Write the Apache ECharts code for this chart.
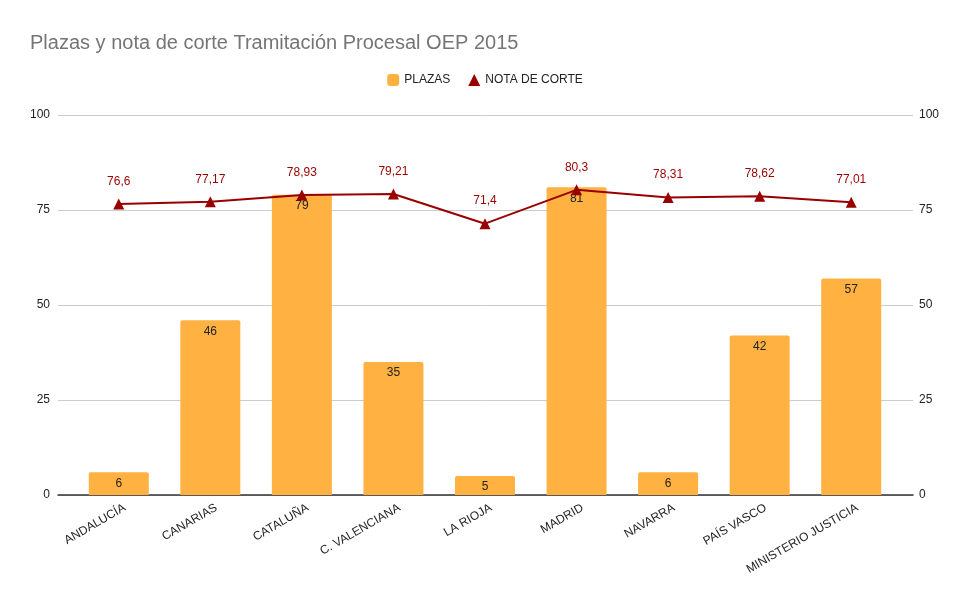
<!DOCTYPE html>
<html>
<head>
    <meta charset="utf-8">
    <title>Plazas y nota de corte</title>
    <script src="https://cdn.jsdelivr.net/npm/echarts@6/dist/echarts.min.js"></script>
    <style>
        html, body { margin: 0; padding: 0; background: #fff; }
        #chart { width: 970px; height: 600px; }
    </style>
</head>
<body>
<div id="chart"></div>
<script type="text/javascript">

    // datos
    var categories = ['ANDALUCÍA', 'CANARIAS', 'CATALUÑA', 'C. VALENCIANA', 'LA RIOJA', 'MADRID', 'NAVARRA', 'PAÍS VASCO', 'MINISTERIO JUSTICIA'];
    var plazas = [6, 46, 79, 35, 5, 81, 6, 42, 57];
    var notaCorte = [76.6, 77.17, 78.93, 79.21, 71.4, 80.3, 78.31, 78.62, 77.01];
    var yTicks = [0, 25, 50, 75, 100];

    var font = 'Liberation Sans, Arial, sans-serif';
    var chart = echarts.init(document.getElementById('chart'));

    function coma(v) {
        return String(v).replace('.', ',');
    }

    chart.setOption({
        backgroundColor: '#fff',
        textStyle: { fontFamily: font },
        title: {
            text: 'Plazas y nota de corte Tramitación Procesal OEP 2015',
            left: 25,
            top: 28,
            textStyle: { color: '#757575', fontSize: 20, fontWeight: 'normal', fontFamily: font }
        },
        legend: {
            left: 'center',
            top: 69,
            itemGap: 18,
            itemWidth: 12,
            itemHeight: 12,
            textStyle: { color: '#222', fontSize: 12, fontFamily: font },
            data: [
                { name: 'PLAZAS', icon: 'roundRect' },
                { name: 'NOTA DE CORTE', icon: 'triangle' }
            ]
        },
        // grid 0: lineas y etiquetas de ejes, grid 1: series, grid 2: etiquetas categoria
        grid: [
            { left: 58, right: 57, top: 115, bottom: 105 },
            { left: 73, right: 73, top: 115, bottom: 105 },
            { left: 79, right: 67, top: 115, bottom: 105 }
        ],
        xAxis: [
            {
                gridIndex: 0, type: 'value', min: 0, max: 1,
                axisLine: { show: true, lineStyle: { color: '#333', width: 1.5 } },
                axisTick: { show: false }, axisLabel: { show: false }, splitLine: { show: false }
            },
            {
                gridIndex: 1, type: 'category', data: categories,
                axisLine: { show: false }, axisTick: { show: false }, axisLabel: { show: false }
            },
            {
                gridIndex: 2, type: 'category', data: categories,
                axisLine: { show: false }, axisTick: { show: false },
                axisLabel: { interval: 0, rotate: 30, margin: 12, color: '#222', fontSize: 12, fontFamily: font }
            }
        ],
        yAxis: [
            {
                gridIndex: 0, type: 'value', position: 'left',
                min: yTicks[0], max: yTicks[yTicks.length - 1], interval: 25,
                axisLine: { show: false }, axisTick: { show: false },
                axisLabel: { color: '#222', fontSize: 12, margin: 8, fontFamily: font },
                splitLine: { lineStyle: { color: '#ccc' } }
            },
            {
                gridIndex: 0, type: 'value', position: 'right',
                min: yTicks[0], max: yTicks[yTicks.length - 1], interval: 25,
                axisLine: { show: false }, axisTick: { show: false },
                axisLabel: { color: '#222', fontSize: 12, margin: 6, fontFamily: font },
                splitLine: { show: false }
            },
            { gridIndex: 1, type: 'value', min: 0, max: 100, show: false },
            { gridIndex: 2, type: 'value', min: 0, max: 100, show: false }
        ],
        series: [
            {
                name: 'PLAZAS',
                type: 'bar',
                xAxisIndex: 1,
                yAxisIndex: 2,
                barWidth: 60,
                itemStyle: { color: '#FFB142', borderRadius: [2, 2, 0, 0] },
                label: {
                    show: true, position: 'insideTop', distance: 5,
                    color: '#222', fontSize: 12, fontFamily: font
                },
                data: plazas
            },
            {
                name: 'NOTA DE CORTE',
                type: 'line',
                xAxisIndex: 1,
                yAxisIndex: 2,
                symbol: 'triangle',
                symbolSize: 11,
                itemStyle: { color: '#990000' },
                lineStyle: { color: '#990000', width: 2 },
                label: {
                    show: true, position: 'top', distance: 11,
                    color: '#990000', fontSize: 12, fontFamily: font,
                    formatter: function (p) { return coma(p.value); }
                },
                z: 3,
                data: notaCorte
            }
        ]
    });

</script>
</body>
</html>
